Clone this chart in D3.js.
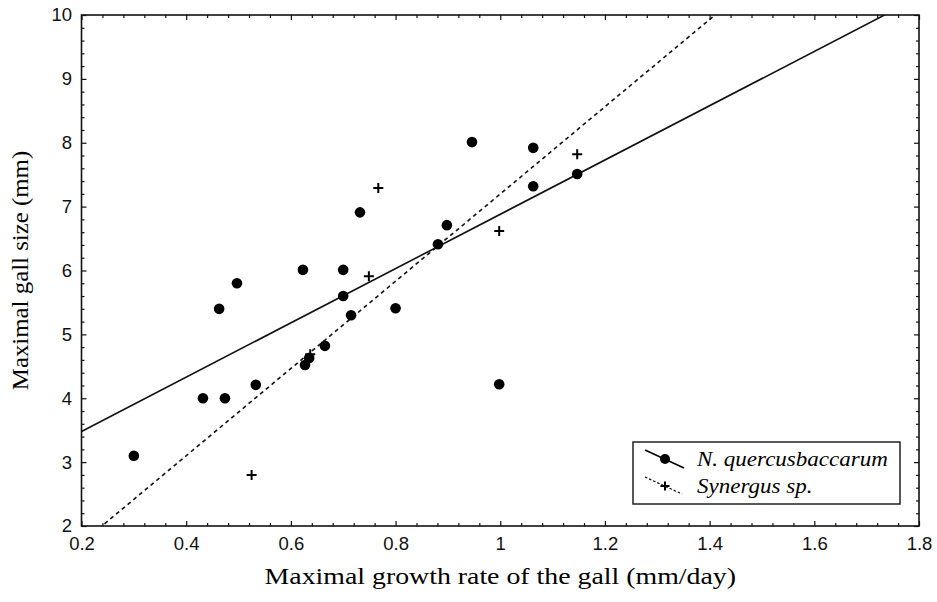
<!DOCTYPE html>
<html>
<head>
<meta charset="utf-8">
<script src="https://cdn.jsdelivr.net/npm/d3@7"></script>
<style>
  body { margin: 0; background: #fff; }
  svg { display: block; }
</style>
</head>
<body>
<svg id="chart" width="937" height="602"></svg>
<script>
// N. quercusbaccarum (filled circles)
const nqRate = [0.30, 0.432, 0.474, 0.533, 0.463, 0.497, 0.623, 0.70, 0.70, 0.715, 0.732,
                0.627, 0.635, 0.665, 0.80, 0.881, 0.898, 0.946, 0.998, 1.063, 1.063, 1.147];
const nqSize = [3.10, 4.00, 4.00, 4.21, 5.40, 5.80, 6.01, 6.01, 5.60, 5.30, 6.91,
                4.52, 4.63, 4.82, 5.41, 6.41, 6.71, 8.01, 4.22, 7.92, 7.32, 7.51];

// Synergus sp. (crosses)
const synRate = [0.525, 0.637, 0.749, 0.767, 0.998, 1.147];
const synSize = [2.80, 4.69, 5.91, 7.29, 6.62, 7.82];

// fitted lines: [intercept, slope]
const nqFit = [2.63, 4.25];
const synFit = [0.368, 6.83];

const xTicks = [0.2, 0.4, 0.6, 0.8, 1, 1.2, 1.4, 1.6, 1.8];
const yTicks = [2, 3, 4, 5, 6, 7, 8, 9, 10];
const legendNames = ["N. quercusbaccarum", "Synergus sp."];

const margin = {left: 81.5, right: 18, top: 15, bottom: 76};
const width = 937, height = 602;
const serif = "'Liberation Serif', 'Times New Roman', serif";

const svg = d3.select('#chart');

const x = d3.scaleLinear().domain([0.2, 1.8]).range([margin.left, width - margin.right]);
const y = d3.scaleLinear().domain([2, 10]).range([height - margin.bottom, margin.top]);

const minorX = d3.range(0.2, 1.8001, 0.04).filter(v => Math.abs(v * 5 - Math.round(v * 5)) > 1e-6);
const minorY = d3.range(2, 10.001, 0.2).filter(v => Math.abs(v - Math.round(v)) > 1e-6);

svg.append('defs').append('clipPath').attr('id', 'plotClip')
    .append('rect')
    .attr('x', x(0.2)).attr('y', y(10))
    .attr('width', x(1.8) - x(0.2)).attr('height', y(2) - y(10));

// the scanned figure's lettering is a bit wider than the stock fonts
function widen(sel, k) {
    sel.each(function() {
        const w = this.getComputedTextLength();
        d3.select(this).attr('textLength', w * k).attr('lengthAdjust', 'spacingAndGlyphs');
    });
}

function styleAxis(g) {
    g.select('.domain').remove();
    g.selectAll('.tick line').attr('stroke', '#111').attr('stroke-width', 1.2);
    g.selectAll('.tick text')
        .style('font-family', "'Liberation Sans', Arial, sans-serif")
        .style('font-size', '18.5px').attr('fill', '#111');
}

// bottom
svg.append('g').attr('transform', `translate(0,${y(2)})`)
    .call(d3.axisBottom(x).tickValues(xTicks).tickSize(-5).tickPadding(11).tickFormat(d3.format('')))
    .call(styleAxis);
svg.append('g').attr('transform', `translate(0,${y(2)})`)
    .call(d3.axisBottom(x).tickValues(minorX).tickSize(-3).tickFormat(''))
    .call(styleAxis);
// top
svg.append('g').attr('transform', `translate(0,${y(10)})`)
    .call(d3.axisTop(x).tickValues(xTicks).tickSize(-5).tickFormat(''))
    .call(styleAxis);
svg.append('g').attr('transform', `translate(0,${y(10)})`)
    .call(d3.axisTop(x).tickValues(minorX).tickSize(-3).tickFormat(''))
    .call(styleAxis);
// left
svg.append('g').attr('transform', `translate(${x(0.2)},0)`)
    .call(d3.axisLeft(y).tickValues(yTicks).tickSize(-5).tickPadding(9.5).tickFormat(d3.format('')))
    .call(styleAxis);
svg.append('g').attr('transform', `translate(${x(0.2)},0)`)
    .call(d3.axisLeft(y).tickValues(minorY).tickSize(-3).tickFormat(''))
    .call(styleAxis);
// right
svg.append('g').attr('transform', `translate(${x(1.8)},0)`)
    .call(d3.axisRight(y).tickValues(yTicks).tickSize(-5).tickFormat(''))
    .call(styleAxis);
svg.append('g').attr('transform', `translate(${x(1.8)},0)`)
    .call(d3.axisRight(y).tickValues(minorY).tickSize(-3).tickFormat(''))
    .call(styleAxis);

// frame
svg.append('rect')
    .attr('x', x(0.2)).attr('y', y(10))
    .attr('width', x(1.8) - x(0.2)).attr('height', y(2) - y(10))
    .attr('fill', 'none').attr('stroke', '#111').attr('stroke-width', 1.6);

// fit lines
const plot = svg.append('g').attr('clip-path', 'url(#plotClip)');
const line = d3.line().x(d => x(d[0])).y(d => y(d[1]));
const fitPts = f => [0.2, 1.8].map(v => [v, f[0] + f[1] * v]);

plot.append('path').datum(fitPts(nqFit))
    .attr('d', line).attr('fill', 'none').attr('stroke', '#111').attr('stroke-width', 1.6);
plot.append('path').datum(fitPts(synFit))
    .attr('d', line).attr('fill', 'none').attr('stroke', '#111').attr('stroke-width', 1.6)
    .attr('stroke-dasharray', '4,3.5');

// points
plot.selectAll('.nq').data(nqRate.map((v, i) => [v, nqSize[i]]))
    .join('circle').attr('class', 'nq')
    .attr('cx', d => x(d[0])).attr('cy', d => y(d[1])).attr('r', 5.3)
    .attr('fill', '#000');

const crossPath = s => `M${-s},0H${s}M0,${-s}V${s}`;
plot.selectAll('.syn').data(synRate.map((v, i) => [v, synSize[i]]))
    .join('path').attr('class', 'syn')
    .attr('transform', d => `translate(${x(d[0])},${y(d[1])})`)
    .attr('d', crossPath(5)).attr('stroke', '#000').attr('stroke-width', 2).attr('fill', 'none');

// legend
const lg = svg.append('g').attr('transform', 'translate(633,442)');
lg.append('rect').attr('width', 267).attr('height', 62)
    .attr('fill', '#fff').attr('stroke', '#222').attr('stroke-width', 1.5);
lg.append('line').attr('x1', 12).attr('y1', 8).attr('x2', 51).attr('y2', 26)
    .attr('stroke', '#000').attr('stroke-width', 1.5);
lg.append('circle').attr('cx', 32).attr('cy', 17).attr('r', 5).attr('fill', '#000');
lg.append('line').attr('x1', 12).attr('y1', 35).attr('x2', 49).attr('y2', 52)
    .attr('stroke', '#000').attr('stroke-width', 1.2).attr('stroke-dasharray', '2.5,2');
lg.append('path').attr('transform', 'translate(32,44)').attr('d', crossPath(4.5))
    .attr('stroke', '#000').attr('stroke-width', 2);
lg.selectAll('.lgText').data(legendNames).join('text').attr('class', 'lgText')
    .attr('x', 64).attr('y', (d, i) => 24 + i * 27)
    .style('font-family', serif)
    .style('font-style', 'italic').style('font-size', '20px')
    .text(d => d)
    .call(widen, 1.15);

// axis titles
svg.append('text')
    .attr('x', (x(0.2) + x(1.8)) / 2).attr('y', 584)
    .attr('text-anchor', 'middle')
    .style('font-family', serif)
    .style('font-size', '23px')
    .text('Maximal growth rate of the gall (mm/day)')
    .call(widen, 1.21);

svg.append('text')
    .attr('transform', `translate(28,${(y(2) + y(10)) / 2}) rotate(-90)`)
    .attr('text-anchor', 'middle')
    .style('font-family', serif)
    .style('font-size', '23px')
    .text('Maximal gall size (mm)')
    .call(widen, 1.08);
</script>
</body>
</html>
